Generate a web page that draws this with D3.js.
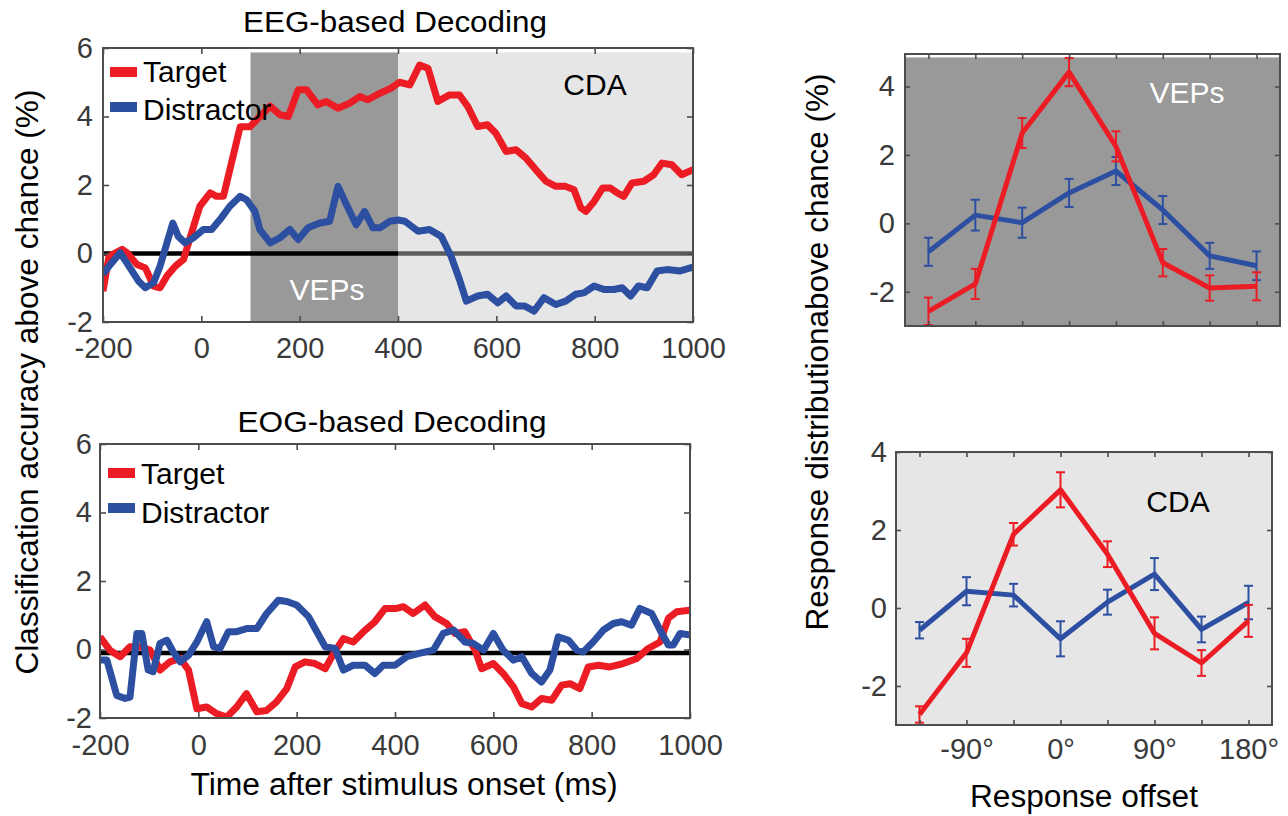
<!DOCTYPE html>
<html>
<head>
<meta charset="utf-8">
<script src="https://cdn.jsdelivr.net/npm/d3@7"></script>
<style>
  body { margin: 0; background: #fff; }
  svg { display: block; }
</style>
</head>
<body>
<svg id="fig" width="1288" height="816"></svg>
<script>
// ---------- data ----------
// Time-resolved decoding (ms after stimulus onset, % above chance)
const eegTarget = [[-200,-1.1],[-188,-0.08],[-161,0.12],[-151,0.02],[-131,-0.32],[-114,-0.42],[-97,-0.95],[-84,-1.0],[-70,-0.66],[-53,-0.37],[-36,-0.17],[-20,0.6],[-3,1.38],[18,1.77],[31,1.67],[45,1.67],[58,2.45],[79,3.7],[99,3.7],[119,4.0],[140,4.3],[160,4.05],[177,4.0],[197,4.78],[214,4.78],[237,4.34],[254,4.44],[278,4.24],[302,4.39],[322,4.58],[339,4.49],[356,4.63],[379,4.78],[386,4.83],[403,5.0],[424,4.92],[444,5.5],[461,5.41],[481,4.44],[505,4.63],[525,4.63],[542,4.29],[562,3.71],[582,3.76],[599,3.51],[620,2.98],[640,3.03],[660,2.79],[680,2.45],[701,2.11],[721,1.96],[741,1.96],[758,1.86],[772,1.33],[782,1.23],[799,1.52],[816,1.91],[832,1.91],[846,1.77],[859,1.67],[876,2.06],[900,2.11],[920,2.3],[937,2.64],[957,2.59],[977,2.3],[1000,2.45]];
const eegDistractor = [[-200,-0.6],[-185,-0.32],[-165,0.02],[-145,-0.42],[-128,-0.8],[-114,-1.0],[-97,-0.85],[-84,-0.37],[-70,0.31],[-58,0.89],[-47,0.5],[-33,0.31],[-16,0.46],[4,0.7],[21,0.7],[38,0.99],[58,1.38],[79,1.67],[92,1.57],[109,1.23],[119,0.7],[140,0.31],[160,0.46],[180,0.7],[197,0.41],[217,0.75],[241,0.89],[261,0.94],[278,1.96],[295,1.43],[315,0.84],[332,1.23],[349,0.75],[363,0.75],[383,0.94],[400,0.98],[414,0.94],[441,0.65],[464,0.7],[488,0.5],[508,-0.08],[525,-0.76],[539,-1.39],[562,-1.24],[582,-1.19],[603,-1.44],[620,-1.24],[640,-1.53],[657,-1.53],[677,-1.68],[697,-1.29],[721,-1.49],[741,-1.39],[761,-1.19],[778,-1.15],[799,-0.95],[819,-1.05],[839,-1.05],[856,-1.0],[873,-1.24],[889,-0.95],[907,-1.0],[927,-0.51],[947,-0.47],[974,-0.51],[1000,-0.4]];
const eogTarget = [[-200,0.37],[-180,-0.02],[-159,-0.21],[-139,0.08],[-119,0.08],[-98,-0.02],[-78,-0.6],[-58,-0.36],[-37,-0.26],[-20,-0.6],[-3,-1.73],[17,-1.68],[37,-1.87],[58,-1.97],[78,-1.68],[98,-1.29],[119,-1.82],[139,-1.78],[159,-1.53],[180,-1.14],[197,-0.51],[217,-0.36],[237,-0.41],[258,-0.56],[275,-0.12],[295,0.32],[315,0.22],[336,0.52],[359,0.81],[380,1.2],[403,1.2],[417,1.25],[437,1.05],[461,1.3],[481,0.96],[505,0.76],[522,0.47],[542,0.52],[563,-0.02],[576,-0.56],[600,-0.41],[620,-0.7],[641,-1.09],[658,-1.58],[678,-1.68],[698,-1.43],[719,-1.48],[739,-1.04],[756,-1.0],[776,-1.14],[793,-0.51],[814,-0.46],[837,-0.51],[864,-0.41],[892,-0.26],[915,0.03],[939,0.22],[956,0.91],[973,1.1],[1000,1.15]];
const eogDistractor = [[-200,-0.31],[-186,-0.31],[-166,-1.34],[-149,-1.43],[-139,-1.39],[-125,0.47],[-115,0.47],[-102,-0.6],[-92,-0.65],[-78,0.18],[-64,0.27],[-51,-0.07],[-37,-0.36],[-20,-0.17],[-3,0.22],[17,0.81],[31,0.08],[44,0.03],[61,0.52],[78,0.52],[98,0.61],[119,0.61],[139,1.05],[163,1.44],[180,1.4],[200,1.3],[224,0.96],[241,0.52],[258,0.08],[278,0.03],[295,-0.6],[315,-0.46],[339,-0.46],[359,-0.7],[376,-0.46],[400,-0.46],[424,-0.21],[447,-0.12],[478,-0.02],[498,0.47],[519,0.57],[542,0.22],[559,0.18],[580,-0.02],[600,0.47],[620,-0.02],[641,-0.31],[658,-0.21],[678,-0.7],[698,-0.95],[715,-0.6],[732,0.37],[753,0.27],[770,-0.02],[783,-0.07],[803,0.22],[824,0.57],[844,0.76],[861,0.81],[881,0.71],[898,1.2],[922,1.05],[939,0.57],[956,0.13],[966,0.13],[980,0.47],[1000,0.42]];

// Analysis windows on the EEG time axis
const eegWindows = [
  { name: "VEPs", start: 100, end: 400 },
  { name: "CDA",  start: 400, end: 1000 }
];
const windowTop = 5.87;
const eegChance = 0;
const eogChance = -0.1;

// Response distributions by response offset (deg)
const offsets = [-135, -90, -45, 0, 45, 90, 135, 180];
const vepTarget        = [-2.57, -1.77, 2.64, 4.42, 2.25, -1.15, -1.89, -1.84];
const vepTargetErr     = [0.40, 0.44, 0.44, 0.41, 0.44, 0.40, 0.37, 0.41];
const vepDistractor    = [-0.83, 0.24, 0.02, 0.89, 1.53, 0.39, -0.95, -1.24];
const vepDistractorErr = [0.41, 0.45, 0.44, 0.41, 0.41, 0.41, 0.38, 0.42];
const cdaTarget        = [-2.73, -1.15, 1.89, 3.03, 1.38, -0.65, -1.41, -0.33];
const cdaTargetErr     = [0.21, 0.36, 0.29, 0.45, 0.33, 0.41, 0.33, 0.41];
const cdaDistractor    = [-0.57, 0.43, 0.33, -0.79, 0.15, 0.87, -0.55, 0.14];
const cdaDistractorErr = [0.21, 0.36, 0.29, 0.45, 0.32, 0.41, 0.33, 0.43];
const vepShadeTop = 4.85;

// Axis ticks
const timeTicks = [-200, 0, 200, 400, 600, 800, 1000];
const accTicks = [-2, 0, 2, 4, 6];
const offsetTicks = offsets;
const respTicks = [-2, 0, 2, 4];
const offsetLabel = d => (d % 90 === 0 ? d + "°" : "");

// ---------- style ----------
const FONT = '"Liberation Sans", Arial, Helvetica, sans-serif';
const RED = "#ec1c24", BLUE = "#2c4fa1";
const AXIS = "#4d4d4d", TICKTXT = "#3a3a3a";
const DARKSHADE = "#999999", LIGHTSHADE = "#e6e6e6";
const TICKFONT = 29;

const svg = d3.select("#fig");
const defs = svg.append("defs");

function makePanel(id, box, xDomain, yDomain) {
  const x = d3.scaleLinear().domain(xDomain).range([box.left, box.right]);
  const y = d3.scaleLinear().domain(yDomain).range([box.bottom, box.top]);
  defs.append("clipPath").attr("id", "clip-" + id).append("rect")
    .attr("x", box.left).attr("y", box.top)
    .attr("width", box.right - box.left).attr("height", box.bottom - box.top);
  const g = svg.append("g");
  const plot = g.append("g").attr("clip-path", `url(#clip-${id})`);
  return { g, plot, x, y, box };
}

function drawAxes(p, o) {
  const { x, y, box } = p;
  const tl = o.tickLen;
  const axes = [
    p.g.append("g").attr("transform", `translate(0,${box.bottom})`)
      .call(d3.axisBottom(x).tickValues(o.xTicks).tickSize(-tl).tickPadding(o.xPad).tickFormat(o.xFormat)),
    p.g.append("g").attr("transform", `translate(0,${box.top})`)
      .call(d3.axisTop(x).tickValues(o.xTicks).tickSize(-tl).tickFormat("")),
    p.g.append("g").attr("transform", `translate(${box.left},0)`)
      .call(d3.axisLeft(y).tickValues(o.yTicks).tickSize(-tl).tickPadding(o.yPad).tickFormat(d => String(d))),
    p.g.append("g").attr("transform", `translate(${box.right},0)`)
      .call(d3.axisRight(y).tickValues(o.yTicks).tickSize(-tl).tickFormat(""))
  ];
  axes.forEach(a => {
    a.select(".domain").remove();
    a.selectAll(".tick line").attr("stroke", AXIS).attr("stroke-width", 1.6);
    a.selectAll(".tick text").attr("font-family", FONT).attr("font-size", TICKFONT).attr("fill", TICKTXT);
  });
  p.g.append("rect")
    .attr("x", box.left).attr("y", box.top)
    .attr("width", box.right - box.left).attr("height", box.bottom - box.top)
    .attr("fill", "none").attr("stroke", AXIS).attr("stroke-width", 2);
}

function label(txt, x, y, size, o = {}) {
  const t = svg.append("text")
    .attr("x", x).attr("y", y)
    .attr("font-family", FONT).attr("font-size", size)
    .attr("fill", o.fill || "#000")
    .attr("text-anchor", o.anchor || "middle")
    .text(txt);
  if (o.rotate) t.attr("transform", `rotate(${o.rotate},${x},${y})`);
  if (o.length) t.attr("textLength", o.length).attr("lengthAdjust", "spacingAndGlyphs");
  return t;
}

function timeLine(p, data, color, width) {
  p.plot.append("path").datum(data)
    .attr("fill", "none").attr("stroke", color).attr("stroke-width", width)
    .attr("stroke-linejoin", "round")
    .attr("d", d3.line().x(d => p.x(d[0])).y(d => p.y(d[1])));
}

function legend(p, x0, items) {
  items.forEach(it => {
    p.g.append("line")
      .attr("x1", x0).attr("x2", x0 + 27).attr("y1", it.y).attr("y2", it.y)
      .attr("stroke", it.color).attr("stroke-width", 10);
    p.g.append("text")
      .attr("x", x0 + 33).attr("y", it.base)
      .attr("font-family", FONT).attr("font-size", 30).attr("fill", "#000")
      .text(it.name);
  });
}

// ---------- EEG panel ----------
const eeg = makePanel("eeg", { left: 103, right: 693, top: 48, bottom: 322 }, [-200, 1000], [-2, 6]);
eeg.plot.selectAll("rect.win").data(eegWindows).enter().append("rect")
  .attr("x", d => eeg.x(d.start)).attr("width", d => eeg.x(d.end) - eeg.x(d.start))
  .attr("y", eeg.y(windowTop)).attr("height", eeg.y(-2) - eeg.y(windowTop))
  .attr("fill", (d, i) => i === 0 ? DARKSHADE : LIGHTSHADE);
eeg.plot.append("line")
  .attr("x1", eeg.x(-200)).attr("x2", eeg.x(400)).attr("y1", eeg.y(eegChance)).attr("y2", eeg.y(eegChance))
  .attr("stroke", "#000").attr("stroke-width", 4.5);
eeg.plot.append("line")
  .attr("x1", eeg.x(400)).attr("x2", eeg.x(1000)).attr("y1", eeg.y(eegChance)).attr("y2", eeg.y(eegChance))
  .attr("stroke", "#5c5c5c").attr("stroke-width", 4.5);
timeLine(eeg, eegTarget, RED, 7);
timeLine(eeg, eegDistractor, BLUE, 7);
drawAxes(eeg, { tickLen: 6, xTicks: timeTicks, yTicks: accTicks, xPad: 15, yPad: 10, xFormat: d => String(d) });
label("VEPs", 327, 300, 30, { fill: "#fff" });
label("CDA", 595, 95, 30);
legend(eeg, 110, [
  { name: "Target", color: RED, y: 72, base: 82 },
  { name: "Distractor", color: BLUE, y: 107, base: 120 }
]);

// ---------- EOG panel ----------
const eog = makePanel("eog", { left: 100, right: 690, top: 444, bottom: 718 }, [-200, 1000], [-2, 6]);
eog.plot.append("line")
  .attr("x1", eog.x(-200)).attr("x2", eog.x(1000)).attr("y1", eog.y(eogChance)).attr("y2", eog.y(eogChance))
  .attr("stroke", "#000").attr("stroke-width", 4.5);
timeLine(eog, eogTarget, RED, 7);
timeLine(eog, eogDistractor, BLUE, 7);
drawAxes(eog, { tickLen: 6, xTicks: timeTicks, yTicks: accTicks, xPad: 16, yPad: 8, xFormat: d => String(d) });
legend(eog, 108, [
  { name: "Target", color: RED, y: 473, base: 484 },
  { name: "Distractor", color: BLUE, y: 508, base: 523 }
]);

// ---------- response distribution panels ----------
function errLines(p, xs, ys, errs, color) {
  const g = p.plot.append("g");
  const pts = xs.map((v, i) => ({ x: v, y: ys[i], e: errs[i] }));
  g.selectAll("line.bar").data(pts).enter().append("line")
    .attr("x1", d => p.x(d.x)).attr("x2", d => p.x(d.x))
    .attr("y1", d => p.y(d.y - d.e)).attr("y2", d => p.y(d.y + d.e))
    .attr("stroke", color).attr("stroke-width", 2);
  [-1, 1].forEach(s => {
    g.selectAll("line.cap" + s).data(pts).enter().append("line")
      .attr("x1", d => p.x(d.x) - 4.5).attr("x2", d => p.x(d.x) + 4.5)
      .attr("y1", d => p.y(d.y + s * d.e)).attr("y2", d => p.y(d.y + s * d.e))
      .attr("stroke", color).attr("stroke-width", 2);
  });
  g.append("path").datum(pts)
    .attr("fill", "none").attr("stroke", color).attr("stroke-width", 5)
    .attr("stroke-linejoin", "round")
    .attr("d", d3.line().x(d => p.x(d.x)).y(d => p.y(d.y)));
}

const vep = makePanel("vep", { left: 905, right: 1280, top: 54, bottom: 326 }, [-157.5, 202.5], [-3, 4.95]);
vep.plot.append("rect")
  .attr("x", vep.x(-157.5)).attr("width", vep.x(202.5) - vep.x(-157.5))
  .attr("y", vep.y(vepShadeTop)).attr("height", vep.y(-3) - vep.y(vepShadeTop))
  .attr("fill", DARKSHADE);
errLines(vep, offsets, vepDistractor, vepDistractorErr, BLUE);
errLines(vep, offsets, vepTarget, vepTargetErr, RED);
drawAxes(vep, { tickLen: 5, xTicks: offsetTicks, yTicks: respTicks, xPad: 13, yPad: 10, xFormat: () => "" });
label("VEPs", 1187, 103, 30, { fill: "#fff" });

const cda = makePanel("cda", { left: 896, right: 1272, top: 452, bottom: 725 }, [-157.5, 202.5], [-3, 4]);
cda.plot.append("rect")
  .attr("x", cda.x(-157.5)).attr("width", cda.x(202.5) - cda.x(-157.5))
  .attr("y", cda.y(4)).attr("height", cda.y(-3) - cda.y(4))
  .attr("fill", LIGHTSHADE);
errLines(cda, offsets, cdaDistractor, cdaDistractorErr, BLUE);
errLines(cda, offsets, cdaTarget, cdaTargetErr, RED);
drawAxes(cda, { tickLen: 5, xTicks: offsetTicks, yTicks: respTicks, xPad: 13, yPad: 9, xFormat: offsetLabel });
label("CDA", 1178, 512, 30);

// ---------- titles and axis labels ----------
label("EEG-based Decoding", 395, 32, 29, { length: 304 });
label("EOG-based Decoding", 392, 432, 29, { length: 309 });
label("Time after stimulus onset (ms)", 404, 795, 31, { length: 427 });
label("Response offset", 1084, 807, 31, { length: 228 });
label("Classification accuracy above chance (%)", 38, 382, 31, { rotate: -90, length: 585 });
label("Response distributionabove chance (%)", 828, 352, 31, { rotate: -90, length: 557 });
</script>
</body>
</html>
